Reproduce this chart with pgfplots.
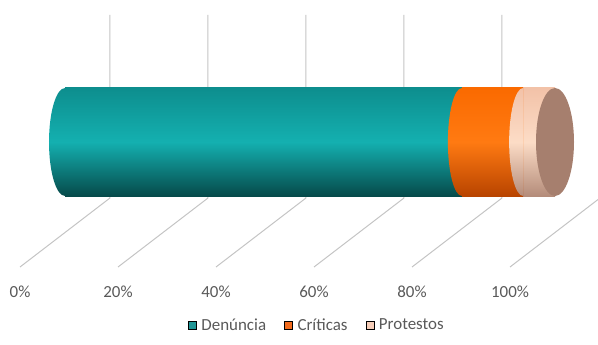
\documentclass[border=0pt]{standalone}
\usepackage{pgfplots}
\pgfplotsset{compat=1.18}
\usepackage{fontspec}
\setmainfont{Carlito}
\definecolor{gridc}{HTML}{C4C4C4}
\definecolor{txt}{HTML}{595959}
\definecolor{tealA}{HTML}{0D8E8E}
\definecolor{tealB}{HTML}{14B0B0}
\definecolor{tealC}{HTML}{064A4A}
\definecolor{orA}{HTML}{FA6A00}
\definecolor{orB}{HTML}{FF7A12}
\definecolor{orC}{HTML}{B84400}
\definecolor{peA}{HTML}{F2C2A8}
\definecolor{peB}{HTML}{FCDCC6}
\definecolor{peC}{HTML}{B48C7A}
\definecolor{capc}{HTML}{A67F6E}
\definecolor{legT}{HTML}{1F9595}
\definecolor{legO}{HTML}{F26B1D}
\definecolor{legP}{HTML}{F6CDB8}
\pgfdeclareverticalshading{shTeal}{100bp}{color(0bp)=(tealC); color(25bp)=(tealC); color(50bp)=(tealB); color(75bp)=(tealA); color(100bp)=(tealA)}
\pgfdeclareverticalshading{shOr}{100bp}{color(0bp)=(orC); color(25bp)=(orC); color(50bp)=(orB); color(75bp)=(orA); color(100bp)=(orA)}
\pgfdeclareverticalshading{shPe}{100bp}{color(0bp)=(peC); color(25bp)=(peC); color(50bp)=(peB); color(75bp)=(peA); color(100bp)=(peA)}
\pgfdeclareplotmark{lhTeal}{%
  \pgfpathmoveto{\pgfqpoint{0bp}{54bp}}%
  \pgfpatharc{90}{270}{16bp and 54bp}%
  \pgfpathclose
  \pgfshadepath{shTeal}{0}\pgfusepath{discard}}
\pgfdeclareplotmark{lhOr}{%
  \pgfpathmoveto{\pgfqpoint{0bp}{54bp}}%
  \pgfpatharc{90}{270}{14bp and 54bp}%
  \pgfpathclose
  \pgfshadepath{shOr}{0}\pgfusepath{discard}}
\pgfdeclareplotmark{lhPe}{%
  \pgfpathmoveto{\pgfqpoint{0bp}{54bp}}%
  \pgfpatharc{90}{270}{14bp and 54bp}%
  \pgfpathclose
  \pgfshadepath{shPe}{0}\pgfusepath{discard}}
\pgfdeclareplotmark{capE}{%
  \pgfpathellipse{\pgfpointorigin}{\pgfqpoint{19bp}{0bp}}{\pgfqpoint{0bp}{54bp}}%
  \pgfsetfillcolor{capc}\pgfusepath{fill}}
\pgfplotsset{base/.style={hide axis, scale only axis, width=598bp, height=345bp,
  xmin=-13.265, xmax=108.776, ymin=0, ymax=345, y dir=reverse}}
\begin{document}
\begin{tikzpicture}
\begin{axis}[base, clip=true,
  legend style={at={(axis cs:51.4,325)}, anchor=center, draw=none, fill=none,
    font=\fontsize{17}{20}\selectfont, text=txt, legend columns=3,
    /tikz/every even column/.append style={column sep=16bp}},
  legend cell align=left,
  legend image code/.code={\fill[#1] (0bp,-4bp) rectangle (8bp,4bp); \path (11bp,0bp);}]
\path (rel axis cs:0,0) rectangle (rel axis cs:1,1);
\addlegendimage{fill=legT}\addlegendentry{Denúncia}
\addlegendimage{fill=legO}\addlegendentry{Críticas}
\addlegendimage{fill=legP}\addlegendentry{Protestos}
\addplot[gridc, line width=1bp, forget plot] coordinates {(-9.18,267) (9.18,198) (9.18,15)};
\addplot[gridc, line width=1bp, forget plot] coordinates {(10.82,267) (29.18,198) (29.18,15)};
\addplot[gridc, line width=1bp, forget plot] coordinates {(30.82,267) (49.18,198) (49.18,15)};
\addplot[gridc, line width=1bp, forget plot] coordinates {(50.82,267) (69.18,198) (69.18,15)};
\addplot[gridc, line width=1bp, forget plot] coordinates {(70.82,267) (89.18,198) (89.18,15)};
\addplot[gridc, line width=1bp, forget plot] coordinates {(90.82,267) (109.18,198) (109.18,15)};
\node[text=txt, font=\fontsize{17}{20}\selectfont] at (axis cs:-9.18,292) {0\%};
\node[text=txt, font=\fontsize{17}{20}\selectfont] at (axis cs:10.82,292) {20\%};
\node[text=txt, font=\fontsize{17}{20}\selectfont] at (axis cs:30.82,292) {40\%};
\node[text=txt, font=\fontsize{17}{20}\selectfont] at (axis cs:50.82,292) {60\%};
\node[text=txt, font=\fontsize{17}{20}\selectfont] at (axis cs:70.82,292) {80\%};
\node[text=txt, font=\fontsize{17}{20}\selectfont] at (axis cs:90.82,292) {100\%};
\end{axis}
\begin{axis}[base, xbar stacked, bar width=108, clip=false]
\addplot[draw=none, top color=tealA, bottom color=tealC, middle color=tealB] coordinates {(81,142)};
\addplot[draw=none, top color=orA, bottom color=orC, middle color=orB] coordinates {(12.5,142)};
\addplot[draw=none, top color=peA, bottom color=peC, middle color=peB] coordinates {(6.5,142)};
\end{axis}
\begin{axis}[base, clip=false]
\addplot[only marks, mark=lhTeal, draw=none] coordinates {(0,142)};
\addplot[only marks, mark=lhOr, draw=none] coordinates {(81,142)};
\addplot[only marks, mark=lhPe, draw=none] coordinates {(93.5,142)};
\addplot[only marks, mark=capE, draw=none] coordinates {(100,142)};
\end{axis}
\end{tikzpicture}
\end{document}
